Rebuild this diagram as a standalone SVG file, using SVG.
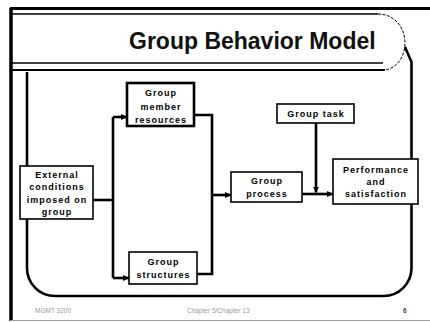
<svg xmlns="http://www.w3.org/2000/svg" width="430" height="322" viewBox="0 0 430 322">
<defs>
<marker id="ah" markerUnits="userSpaceOnUse" markerWidth="7" markerHeight="7" refX="6" refY="3.5" orient="auto">
<path d="M0,0.5 L6.5,3.5 L0,6.5 z" fill="#000"/>
</marker>
<style>
.frame{fill:none;stroke:#000}
.box{fill:#fff;stroke:#000;stroke-width:1.6}
.boxb{fill:#fff;stroke:#000;stroke-width:2.6}
.lbl{font-family:"Liberation Sans",Arial,sans-serif;font-weight:bold;font-size:9px;letter-spacing:1px;text-anchor:middle;fill:#000}
.conn{fill:none;stroke:#000;stroke-width:2.6;stroke-linejoin:miter}
.foot{font-family:"Liberation Sans",Arial,sans-serif;font-size:6.5px;fill:#999}
</style>
</defs>
<rect width="430" height="322" fill="#fff"/>
<g id="frame">
<line x1="10" y1="8.5" x2="430" y2="8.5" class="frame" stroke-width="3"/>
<line x1="11" y1="8" x2="11" y2="321" class="frame" stroke-width="3.5"/>
<line x1="10" y1="320.5" x2="430" y2="320.5" stroke="#999" stroke-width="1"/>
<line x1="12" y1="14" x2="378" y2="14" class="frame" stroke-width="1.5"/>
<line x1="12" y1="63" x2="383" y2="63" class="frame" stroke-width="1.5"/>
<line x1="12" y1="70" x2="385" y2="70" class="frame" stroke-width="1.8"/>
<path d="M378,14 C395,14 405,28 405,43 C405,58 395,70 383,70" class="frame" stroke-width="1" stroke-dasharray="3,1.5"/>
<path d="M405,47 L411.5,62 V268 A28,28 0 0 1 383.5,296 H55 A28,28 0 0 1 27,268 V72" class="frame" stroke-width="2.6"/>
<text x="129" y="49" font-family="'Liberation Sans',Arial,sans-serif" font-weight="bold" font-size="23" fill="#111">Group Behavior Model</text>
</g>
<g id="connectors">
<path d="M93,200 H113" class="conn"/>
<path d="M113,117 V278" class="conn"/>
<path d="M113,117 H127" class="conn" marker-end="url(#ah)"/>
<path d="M113,278 H129" class="conn" marker-end="url(#ah)"/>
<path d="M194,115 H212 V274 H197" class="conn"/>
<path d="M212,195 H231" class="conn" marker-end="url(#ah)"/>
<path d="M302,194 H333" class="conn" marker-end="url(#ah)"/>
<path d="M316,123 V192.5" class="conn" marker-end="url(#ah)"/>
</g>
<g id="external">
<rect x="20" y="166" width="73" height="53" class="box"/>
<text class="lbl" x="57" y="178">External</text>
<text class="lbl" x="57" y="190">conditions</text>
<text class="lbl" x="57" y="203">imposed on</text>
<text class="lbl" x="57" y="215">group</text>
</g>
<g id="member-resources">
<rect x="127" y="83" width="67" height="43" class="boxb"/>
<text class="lbl" x="161" y="96">Group</text>
<text class="lbl" x="161" y="110">member</text>
<text class="lbl" x="161" y="123">resources</text>
</g>
<g id="structures">
<rect x="129" y="252" width="68" height="32" class="box"/>
<text class="lbl" x="163.5" y="265">Group</text>
<text class="lbl" x="163.5" y="278">structures</text>
</g>
<g id="task">
<rect x="277" y="104" width="77" height="19" class="box"/>
<text class="lbl" x="316" y="117">Group task</text>
</g>
<g id="process">
<rect x="231" y="172" width="71" height="30" class="box"/>
<text class="lbl" x="267" y="184">Group</text>
<text class="lbl" x="267" y="197">process</text>
</g>
<g id="performance">
<rect x="333" y="159" width="85" height="45" class="box"/>
<text class="lbl" x="376" y="173">Performance</text>
<text class="lbl" x="376" y="185">and</text>
<text class="lbl" x="376" y="197">satisfaction</text>
</g>
<g id="footer">
<text class="foot" x="35" y="313">MGMT 3200</text>
<text class="foot" x="187" y="313">Chapter 5/Chapter 13</text>
<text x="403" y="313" font-family="'Liberation Sans',Arial,sans-serif" font-weight="bold" font-size="6.5" fill="#444">6</text>
</g>
</svg>
